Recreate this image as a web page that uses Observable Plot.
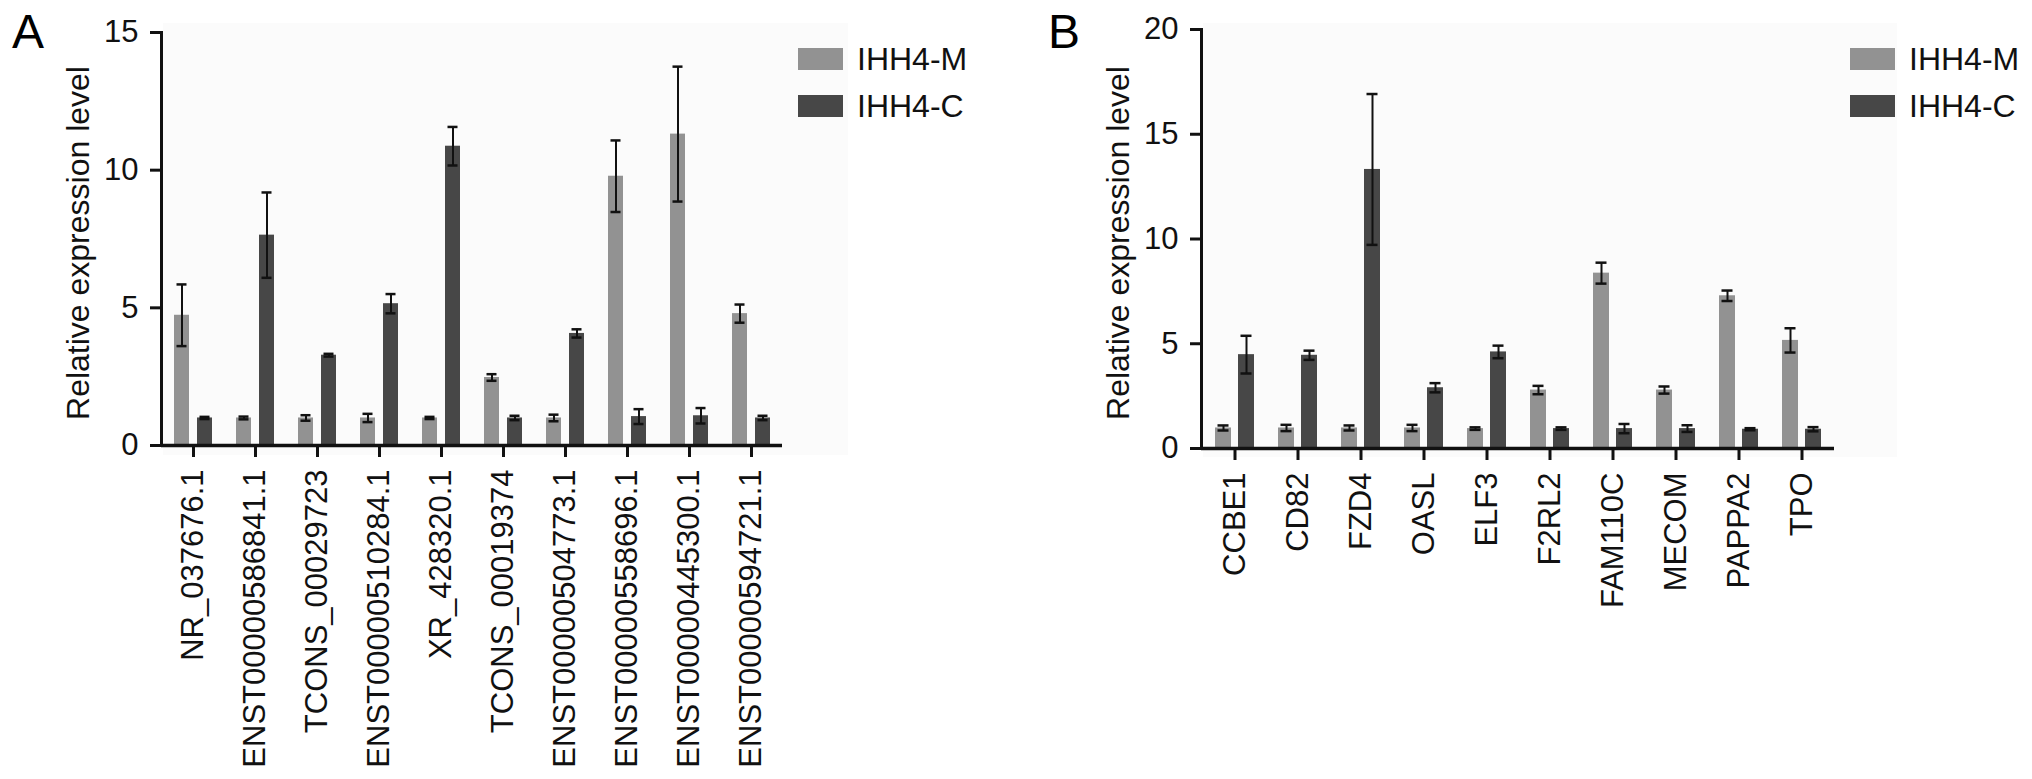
<!DOCTYPE html>
<html>
<head>
<meta charset="utf-8">
<script src="https://cdn.jsdelivr.net/npm/d3@7"></script>
<script src="https://cdn.jsdelivr.net/npm/@observablehq/plot@0.6"></script>
<style>
  html, body { margin: 0; padding: 0; background: #ffffff; }
  #root { position: relative; width: 2032px; height: 779px; overflow: hidden; font-family: "Liberation Sans", Arial, Helvetica, sans-serif; }
  .panel { position: absolute; top: 0; width: 1016px; height: 779px; }
  .tint { position: absolute; background: #fbfbfb; }
  .letter { position: absolute; font-size: 48px; line-height: 1; color: #000; }
  .legend { position: absolute; }
  .legend .item { display: flex; align-items: center; height: 22px; margin-bottom: 25px; font-size: 32px; color: #111; }
  .legend .sw { width: 45px; height: 22px; margin-right: 14px; flex: none; }
  svg { position: absolute; top: 0; left: 0; overflow: visible; }
</style>
</head>
<body>
<div id="root"></div>
<script>
// ---------- Data ----------
const seriesNames = ["IHH4-M", "IHH4-C"];
const seriesColors = ["#929292", "#474747"];

const genesA = ["NR_037676.1", "ENST00000586841.1", "TCONS_00029723", "ENST00000510284.1", "XR_428320.1",
                "TCONS_00019374", "ENST00000504773.1", "ENST00000558696.1", "ENST00000445300.1", "ENST00000594721.1"];
const meanA_M = [4.73, 1.0, 1.0, 1.0, 1.0, 2.47, 1.0, 9.78, 11.31, 4.79];
const errA_M  = [1.12, 0.05, 0.1, 0.15, 0.04, 0.12, 0.12, 1.3, 2.45, 0.33];
const meanA_C = [1.0, 7.64, 3.28, 5.15, 10.87, 1.0, 4.07, 1.05, 1.08, 1.0];
const errA_C  = [0.04, 1.55, 0.05, 0.35, 0.7, 0.08, 0.15, 0.27, 0.28, 0.08];
const yTicksA = [0, 5, 10, 15];

const genesB = ["CCBE1", "CD82", "FZD4", "OASL", "ELF3", "F2RL2", "FAM110C", "MECOM", "PAPPA2", "TPO"];
const meanB_M = [0.98, 0.98, 0.98, 0.98, 0.95, 2.79, 8.37, 2.79, 7.29, 5.16];
const errB_M  = [0.12, 0.15, 0.12, 0.15, 0.06, 0.2, 0.5, 0.17, 0.25, 0.58];
const meanB_C = [4.48, 4.45, 13.32, 2.9, 4.61, 0.95, 0.95, 0.95, 0.92, 0.92];
const errB_C  = [0.9, 0.22, 3.6, 0.22, 0.3, 0.06, 0.22, 0.16, 0.05, 0.1];
const yTicksB = [0, 5, 10, 15, 20];

const yLabel = "Relative expression level";

// ---------- Build ----------
function rows(genes, mean, err, series) {
  return genes.map((g, i) => ({gene: g, series, value: mean[i], err: err[i]}));
}

function makePanel(cfg) {
  const rowsM = rows(cfg.genes, cfg.meanM, cfg.errM, seriesNames[0]);
  const rowsC = rows(cfg.genes, cfg.meanC, cfg.errC, seriesNames[1]);
  const off = 11.5, inset = 23.5, capInset = 26;
  const barMarks = (data, dx) => [
    Plot.barY(data, {x: "gene", y: "value", fill: "series", dx, insetLeft: inset, insetRight: inset}),
    Plot.ruleX(data, {x: "gene", y1: d => d.value - d.err, y2: d => d.value + d.err, dx, stroke: "#111", strokeWidth: 2}),
    Plot.tickY(data, {x: "gene", y: d => d.value + d.err, dx, insetLeft: capInset, insetRight: capInset, stroke: "#111", strokeWidth: 2.5}),
    Plot.tickY(data, {x: "gene", y: d => d.value - d.err, dx, insetLeft: capInset, insetRight: capInset, stroke: "#111", strokeWidth: 2.5})
  ];
  return Plot.plot({
    width: 1016, height: 779,
    marginLeft: cfg.ml, marginRight: cfg.mr, marginTop: cfg.mt, marginBottom: cfg.mb,
    style: {fontFamily: '"Liberation Sans", Arial, Helvetica, sans-serif', fontSize: "31px", background: "transparent", color: "#111", overflow: "visible"},
    x: {domain: cfg.genes, padding: 0, label: null},
    y: {domain: [0, cfg.ymax], label: null},
    color: {domain: seriesNames, range: seriesColors},
    marks: [
      ...barMarks(rowsM, -off),
      ...barMarks(rowsC, off),
      Plot.axisX({tickSize: 12, tickRotate: -90, tickPadding: 12, strokeWidth: 3, fontSize: 31, label: null}),
      Plot.axisY({ticks: cfg.yTicks, tickSize: 11, tickPadding: 12, strokeWidth: 3, fontSize: 31, label: null}),
      Plot.frame({anchor: "left", strokeWidth: 3, stroke: "#111"}),
      Plot.ruleY([0], {strokeWidth: 3.5, stroke: "#111"}),
      Plot.text([yLabel], {frameAnchor: "left", rotate: -90, dx: cfg.labelDx, dy: 4, textAnchor: "middle", lineAnchor: "bottom", fontSize: 32, fill: "#111"})
    ]
  });
}

const root = document.getElementById("root");

function addPanel(left, letter, cfg, tint, legendPos) {
  const wrap = document.createElement("div");
  wrap.className = "panel";
  wrap.style.left = left + "px";
  const t = document.createElement("div");
  t.className = "tint";
  Object.assign(t.style, {left: tint[0] + "px", top: tint[1] + "px", width: tint[2] + "px", height: tint[3] + "px"});
  wrap.appendChild(t);
  wrap.appendChild(makePanel(cfg));
  const l = document.createElement("div");
  l.className = "letter";
  l.textContent = letter;
  Object.assign(l.style, {left: cfg.letterX + "px", top: "8px"});
  wrap.appendChild(l);
  const lg = document.createElement("div");
  lg.className = "legend";
  Object.assign(lg.style, {left: legendPos[0] + "px", top: legendPos[1] + "px"});
  seriesNames.forEach((s, i) => {
    const it = document.createElement("div");
    it.className = "item";
    const sw = document.createElement("div");
    sw.className = "sw";
    sw.style.background = seriesColors[i];
    const tx = document.createElement("span");
    tx.textContent = s;
    it.appendChild(sw); it.appendChild(tx);
    lg.appendChild(it);
  });
  wrap.appendChild(lg);
  root.appendChild(wrap);
}

addPanel(0, "A",
  {genes: genesA, meanM: meanA_M, errM: errA_M, meanC: meanA_C, errC: errA_C, ymax: 15, yTicks: yTicksA,
   ml: 161, mr: 234, mt: 32, mb: 334, labelDx: -73, letterX: 12},
  [163, 23, 685, 432], [798, 48]);

addPanel(1016, "B",
  {genes: genesB, meanM: meanB_M, errM: errB_M, meanC: meanB_C, errC: errB_C, ymax: 20, yTicks: yTicksB,
   ml: 185, mr: 198, mt: 29, mb: 331, labelDx: -73, letterX: 32},
  [187, 23, 694, 434], [834, 48]);
</script>
</body>
</html>
